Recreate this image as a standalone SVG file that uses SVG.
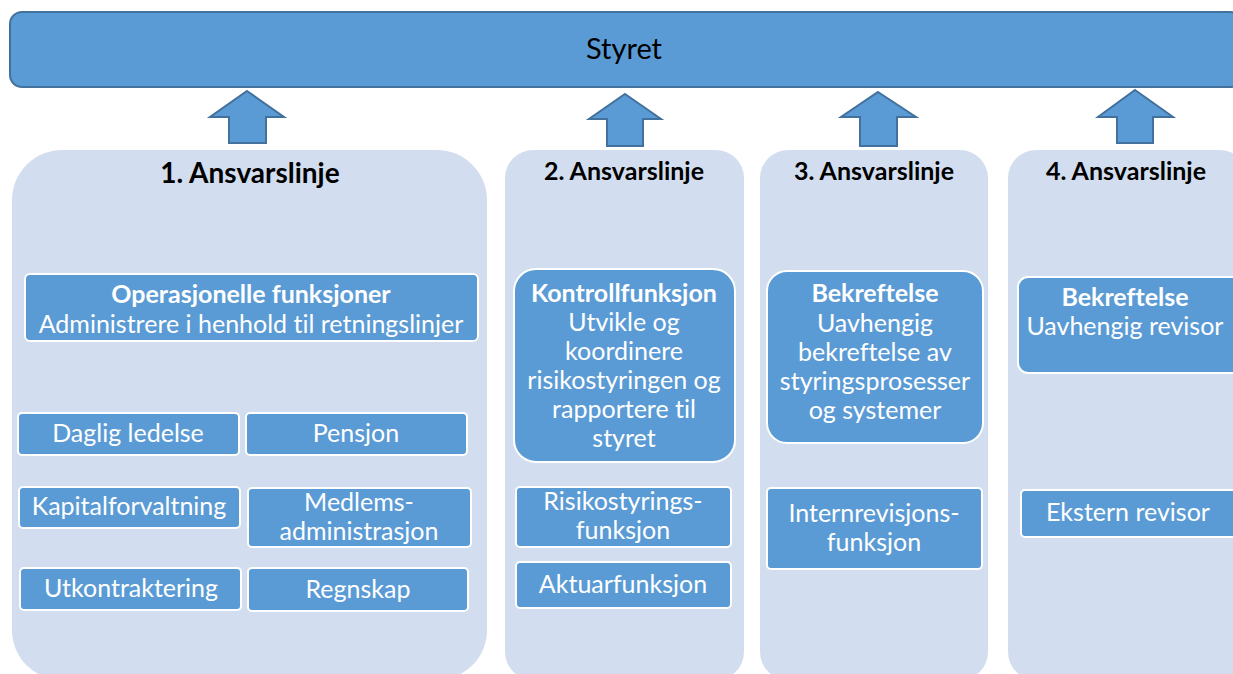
<svg xmlns="http://www.w3.org/2000/svg" width="1233" height="674" viewBox="0 0 1233 674">
<style>
.panel{fill:#D2DEEF}
.box{fill:#5B9BD5;stroke:#FFFFFF;stroke-width:2}
.arrow{fill:#5B9BD5;stroke:#41719C;stroke-width:2;stroke-linejoin:miter}
text{font-variant-ligatures:none}
.t{font-family:Lato,"Open Sans","Liberation Sans",sans-serif;font-size:25px;fill:#FFFFFF;text-anchor:middle}
.b{font-weight:bold}
.h{font-family:Lato,"Open Sans","Liberation Sans",sans-serif;font-weight:bold;fill:#000000;text-anchor:middle}
</style>
<rect width="1233" height="674" fill="#FFFFFF"/>
<g id="styret">
<rect x="10" y="12" width="1232" height="75" rx="12" fill="#5B9BD5" stroke="#41719C" stroke-width="2"/>
<text x="624" y="59" font-family="Lato,'Open Sans','Liberation Sans',sans-serif" font-size="29" fill="#000000" text-anchor="middle">Styret</text>
</g>
<g id="connectors">
<path class="arrow" d="M247,91 L284,117 L266,117 L266,143 L229,143 L229,117 L210,117 Z"/>
<path class="arrow" d="M625,94 L661,119 L643,119 L643,146 L607,146 L607,119 L589,119 Z"/>
<path class="arrow" d="M878,92 L916,117 L897,117 L897,146 L860,146 L860,117 L841,117 Z"/>
<path class="arrow" d="M1135,90 L1173,117 L1153,117 L1153,143 L1117,143 L1117,117 L1098,117 Z"/>
</g>
<g id="linje1">
<rect class="panel" x="12" y="150" width="475" height="530" rx="50"/>
<text class="h" x="250" y="183" font-size="28">1. Ansvarslinje</text>
</g>
<g id="linje2">
<rect class="panel" x="505" y="150" width="239" height="530" rx="28"/>
<text class="h" x="624" y="180" font-size="25">2. Ansvarslinje</text>
</g>
<g id="linje3">
<rect class="panel" x="760" y="150" width="228" height="530" rx="28"/>
<text class="h" x="874" y="180" font-size="25">3. Ansvarslinje</text>
</g>
<g id="linje4">
<rect class="panel" x="1008" y="150" width="240" height="530" rx="28"/>
<text class="h" x="1126" y="180" font-size="25">4. Ansvarslinje</text>
</g>
<g id="operasjonelle">
<rect class="box" x="25" y="274" width="453" height="67" rx="5"/>
<text class="t b" x="251" y="303">Operasjonelle funksjoner</text>
<text class="t" x="251" y="333">Administrere i henhold til retningslinjer</text>
</g>
<g id="daglig">
<rect class="box" x="18" y="413" width="221" height="42" rx="4"/>
<text class="t" x="128" y="442">Daglig ledelse</text>
</g>
<g id="pensjon">
<rect class="box" x="246" y="413" width="221" height="42" rx="4"/>
<text class="t" x="356" y="442">Pensjon</text>
</g>
<g id="kapital">
<rect class="box" x="19" y="487" width="221" height="41" rx="4"/>
<text class="t" x="129" y="515">Kapitalforvaltning</text>
</g>
<g id="medlems">
<rect class="box" x="248" y="488" width="223" height="59" rx="4"/>
<text class="t" x="359" y="511">Medlems-</text>
<text class="t" x="359" y="540">administrasjon</text>
</g>
<g id="utkontraktering">
<rect class="box" x="20" y="568" width="221" height="42" rx="4"/>
<text class="t" x="131" y="597">Utkontraktering</text>
</g>
<g id="regnskap">
<rect class="box" x="248" y="568" width="220" height="43" rx="4"/>
<text class="t" x="358" y="598">Regnskap</text>
</g>
<g id="kontroll">
<rect class="box" x="514" y="269" width="221" height="193" rx="22"/>
<text class="t b" x="624" y="302">Kontrollfunksjon</text>
<text class="t" x="624" y="331">Utvikle og</text>
<text class="t" x="624" y="360">koordinere</text>
<text class="t" x="624" y="389">risikostyringen og</text>
<text class="t" x="624" y="418">rapportere til</text>
<text class="t" x="624" y="447">styret</text>
</g>
<g id="risiko">
<rect class="box" x="516" y="487" width="215" height="60" rx="4"/>
<text class="t" x="623" y="510">Risikostyrings-</text>
<text class="t" x="623" y="539">funksjon</text>
</g>
<g id="aktuar">
<rect class="box" x="516" y="562" width="215" height="46" rx="4"/>
<text class="t" x="623" y="593">Aktuarfunksjon</text>
</g>
<g id="bekreftelse3">
<rect class="box" x="767" y="271" width="216" height="172" rx="20"/>
<text class="t b" x="875" y="302">Bekreftelse</text>
<text class="t" x="875" y="332">Uavhengig</text>
<text class="t" x="875" y="361">bekreftelse av</text>
<text class="t" x="875" y="390">styringsprosesser</text>
<text class="t" x="875" y="419">og systemer</text>
</g>
<g id="internrevisjon">
<rect class="box" x="767" y="488" width="215" height="81" rx="4"/>
<text class="t" x="874" y="522">Internrevisjons-</text>
<text class="t" x="874" y="551">funksjon</text>
</g>
<g id="bekreftelse4">
<rect class="box" x="1018" y="277" width="225" height="96" rx="10"/>
<text class="t b" x="1125" y="306">Bekreftelse</text>
<text class="t" x="1125" y="335">Uavhengig revisor</text>
</g>
<g id="ekstern">
<rect class="box" x="1021" y="490" width="222" height="47" rx="4"/>
<text class="t" x="1128" y="521">Ekstern revisor</text>
</g>
</svg>
